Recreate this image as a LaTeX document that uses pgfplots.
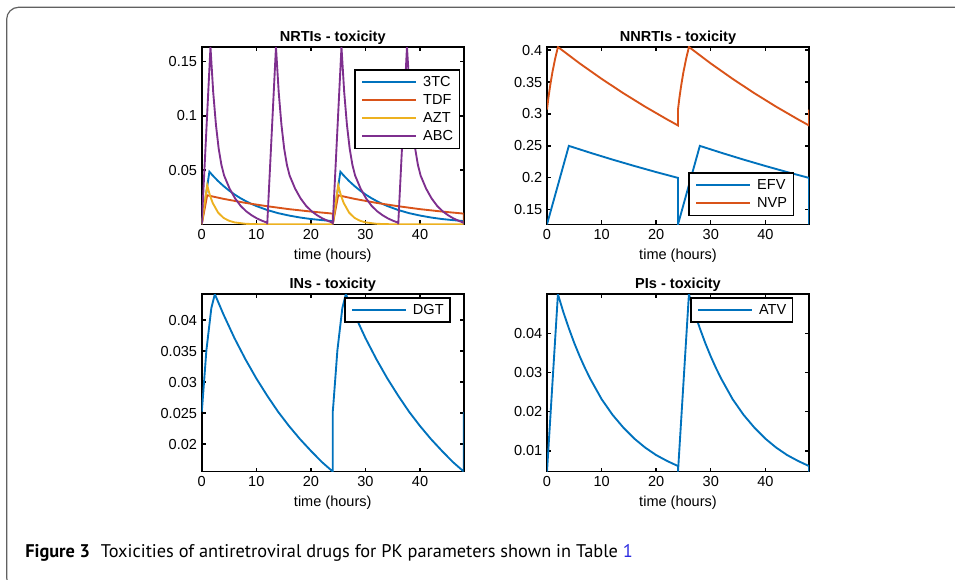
\documentclass[border=0pt]{standalone}
\usepackage{fontspec}
\setmainfont{Liberation Sans}
\newfontfamily\capfont{PT Sans}
\usepackage{pgfplots}
\pgfplotsset{compat=1.18}

\definecolor{mblue}{HTML}{0072BD}
\definecolor{morange}{HTML}{D95319}
\definecolor{myellow}{HTML}{EDB120}
\definecolor{mpurple}{HTML}{7E2F8E}
\definecolor{linkblue}{HTML}{2B2BE0}

\newcommand{\panelfont}{\fontsize{10.9}{13}\selectfont}

\pgfplotsset{
  every axis title/.style={at={(0.5,1)}, anchor=south, inner sep=0pt, yshift=2pt},
  matpanel/.style={
    scale only axis, width=196.5pt, height=133pt,
    xmin=0, xmax=48,
    xtick={0,10,20,30,40}, xticklabels={0,10,20,30,40},
    scaled x ticks=false, scaled y ticks=false,
    tick align=inside, major tick length=3pt,
    axis line style={line width=1.2pt},
    every tick/.style={black, line width=1.1pt},
    tick label style={font=\panelfont},
    /pgf/number format/assume math mode=true,
    title style={font=\panelfont\bfseries},
    xlabel={time (hours)},
    label style={font=\panelfont},
    legend cell align=left,
    legend style={draw=black, line width=1.1pt, fill=white, font=\panelfont,
      inner xsep=4.7pt, inner ysep=2.4pt, row sep=0pt, column sep=4.3pt,
      nodes={inner sep=0pt, text height=9.8pt, text depth=3.7pt}},
    legend image code/.code={\draw[#1, line width=1.5pt] (0pt,0pt) -- (40.5pt,0pt);},
    every axis plot/.append style={line width=1.4pt},
  },
}

\begin{document}
\begin{tikzpicture}
\useasboundingbox (0,0) rectangle (716.25pt,434.25pt);

% outer frame of the figure box
\draw[line width=0.9pt, black!62, rounded corners=9pt]
  (740pt,-8pt) -- (5pt,-8pt) -- (5pt,428.8pt) -- (740pt,428.8pt);

% ---------------- NRTIs ----------------
\begin{axis}[matpanel, at={(151.3pt,266pt)}, anchor=south west,
  title={NRTIs - toxicity},
  ymin=0, ymax=0.1636,
  ytick={0.05,0.1,0.15}, yticklabels={0.05,0.1,0.15},
  legend style={at={(0.986,0.874)}, anchor=north east}]
\addplot[mblue] coordinates {
 (0,0) (1.4,0.0485) (2,0.0451) (3,0.0399) (4,0.0353) (5,0.0312) (6,0.0276)
 (7,0.0244) (8,0.0216) (9,0.0191) (10,0.0169) (12,0.0132) (14,0.0103)
 (16,0.0081) (18,0.0063) (20,0.0049) (22,0.0039) (24,0.0030) (24,0)
 (25.4,0.0485) (26,0.0451) (27,0.0399) (28,0.0353) (29,0.0312) (30,0.0276)
 (31,0.0244) (32,0.0216) (33,0.0191) (34,0.0169) (36,0.0132) (38,0.0103)
 (40,0.0081) (42,0.0063) (44,0.0049) (46,0.0039) (48,0.0030) (48,0)};
\addlegendentry{3TC}
\addplot[morange] coordinates {
 (0,0) (1,0.0268) (4,0.0235) (8,0.0198) (12,0.0167) (16,0.0140) (20,0.0118)
 (24,0.0099) (24,0)
 (25,0.0268) (28,0.0235) (32,0.0198) (36,0.0167) (40,0.0140) (44,0.0118)
 (48,0.0099) (48,0)};
\addlegendentry{TDF}
\addplot[myellow] coordinates {
 (0,0) (1,0.036) (1.5,0.0267) (2,0.0198) (3,0.0108) (4,0.0059) (5,0.0033)
 (6,0.0018) (8,0.0005) (10,0.00015) (12,0.00005) (24,0.00001) (24,0)
 (25,0.036) (25.5,0.0267) (26,0.0198) (27,0.0108) (28,0.0059) (29,0.0033)
 (30,0.0018) (32,0.0005) (34,0.00015) (36,0.00005) (48,0.00001) (48,0)};
\addlegendentry{AZT}
\addplot[mpurple] coordinates {
 (0,0) (1.6,0.1636) (2.1,0.122) (2.6,0.092) (3.1,0.070) (3.6,0.055) (4.1,0.045)
 (5.1,0.033) (6.1,0.024) (7.1,0.0172) (8.1,0.0122) (9.1,0.0085) (10.1,0.0055)
 (11.1,0.0032) (12,0.0015) (12,0)
 (13.6,0.1636) (14.1,0.122) (14.6,0.092) (15.1,0.070) (15.6,0.055) (16.1,0.045)
 (17.1,0.033) (18.1,0.024) (19.1,0.0172) (20.1,0.0122) (21.1,0.0085) (22.1,0.0055)
 (23.1,0.0032) (24,0.0015) (24,0)
 (25.6,0.1636) (26.1,0.122) (26.6,0.092) (27.1,0.070) (27.6,0.055) (28.1,0.045)
 (29.1,0.033) (30.1,0.024) (31.1,0.0172) (32.1,0.0122) (33.1,0.0085) (34.1,0.0055)
 (35.1,0.0032) (36,0.0015) (36,0)
 (37.6,0.1636) (38.1,0.122) (38.6,0.092) (39.1,0.070) (39.6,0.055) (40.1,0.045)
 (41.1,0.033) (42.1,0.024) (43.1,0.0172) (44.1,0.0122) (45.1,0.0085) (46.1,0.0055)
 (47.1,0.0032) (48,0.0015) (48,0)};
\addlegendentry{ABC}
\end{axis}

% ---------------- NNRTIs ----------------
\begin{axis}[matpanel, at={(410.25pt,266pt)}, anchor=south west,
  title={NNRTIs - toxicity},
  ymin=0.127, ymax=0.405,
  ytick={0.15,0.2,0.25,0.3,0.35,0.4},
  yticklabels={0.15,0.2,0.25,0.3,0.35,0.4},
  legend style={at={(0.943,0.047)}, anchor=south east}]
\addplot[mblue] coordinates {
 (0,0.127) (4,0.25) (8,0.2390) (12,0.2285) (16,0.2185) (20,0.2089) (24,0.1998)
 (24,0.127) (28,0.25) (32,0.2390) (36,0.2285) (40,0.2185) (44,0.2089) (48,0.1998)
 (48,0.127)};
\addlegendentry{EFV}
\addplot[morange] coordinates {
 (0,0.307) (0.25,0.325) (0.6,0.3455) (1,0.366) (1.5,0.387) (2,0.405)
 (6,0.3792) (10,0.3551) (14,0.3325) (18,0.3113) (22,0.2915) (24,0.2820)
 (24,0.307) (24.25,0.325) (24.6,0.3455) (25,0.366) (25.5,0.387) (26,0.405)
 (30,0.3792) (34,0.3551) (38,0.3325) (42,0.3113) (46,0.2915) (48,0.2820)
 (48,0.307)};
\addlegendentry{NVP}
\end{axis}

% ---------------- INs ----------------
\begin{axis}[matpanel, at={(151.3pt,80.6pt)}, anchor=south west,
  title={INs - toxicity},
  ymin=0.01556, ymax=0.0442,
  ytick={0.02,0.025,0.03,0.035,0.04},
  yticklabels={0.02,0.025,0.03,0.035,0.04},
  legend style={at={(0.950,0.984)}, anchor=north east}]
\addplot[mblue] coordinates {
 (0,0.0252) (0.1,0.0262) (0.85,0.0351) (1.75,0.0419) (2.4,0.0442)
 (4,0.0409) (6,0.0371) (8,0.0337) (10,0.0306) (12,0.0278) (14,0.0252)
 (16,0.0229) (18,0.0208) (20,0.0189) (22,0.0171) (24,0.01556)
 (24,0.0252) (24.1,0.0262) (24.85,0.0351) (25.75,0.0419) (26.4,0.0442)
 (28,0.0409) (30,0.0371) (32,0.0337) (34,0.0306) (36,0.0278) (38,0.0252)
 (40,0.0229) (42,0.0208) (44,0.0189) (46,0.0171) (48,0.01556) (48,0.0252)};
\addlegendentry{DGT}
\end{axis}

% ---------------- PIs ----------------
\begin{axis}[matpanel, at={(410.25pt,80.6pt)}, anchor=south west,
  title={PIs - toxicity},
  ymin=0.0047, ymax=0.05,
  ytick={0.01,0.02,0.03,0.04},
  yticklabels={0.01,0.02,0.03,0.04},
  legend style={at={(0.940,0.984)}, anchor=north east}]
\addplot[mblue] coordinates {
 (0,0.0047) (2,0.05) (3,0.0454) (4,0.0413) (5,0.0375) (6,0.0341) (7,0.0310)
 (8,0.0282) (10,0.0232) (12,0.0192) (14,0.0159) (16,0.0131) (18,0.0108)
 (20,0.0089) (22,0.0074) (24,0.0061)
 (24,0.0047) (26,0.05) (27,0.0454) (28,0.0413) (29,0.0375) (30,0.0341) (31,0.0310)
 (32,0.0282) (34,0.0232) (36,0.0192) (38,0.0159) (40,0.0131) (42,0.0108)
 (44,0.0089) (46,0.0074) (48,0.0061) (48,0.0047)};
\addlegendentry{ATV}
\end{axis}

% caption
\node[anchor=base west, inner sep=0pt] at (18.75pt,16.2pt)
  {\capfont\fontsize{13.75}{16}\selectfont\textbf{Figure 3}\hspace{0.6em}Toxicities of antiretroviral drugs for PK parameters shown in Table {\color{linkblue}1}};
\end{tikzpicture}
\end{document}
